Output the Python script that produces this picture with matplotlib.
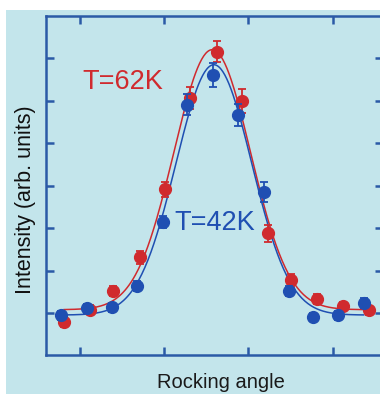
import numpy as np
import matplotlib
matplotlib.use("Agg")
import matplotlib.pyplot as plt
from matplotlib.patches import Rectangle

# rocking angle (arb.) and intensity (arb.)
x_62 = [0.81, 1.12, 1.39, 1.71, 2.01, 2.31, 2.63, 2.92, 3.23, 3.51, 3.82, 4.13, 4.43]
y_62 = [-0.21, 0.09, 0.52, 1.32, 2.92, 5.07, 6.16, 5.00, 1.89, 0.78, 0.33, 0.17, 0.07]
e_62 = [0.12, 0.10, 0.12, 0.15, 0.17, 0.25, 0.25, 0.28, 0.20, 0.15, 0.12, 0.10, 0.10]

x_42 = [0.77, 1.08, 1.38, 1.68, 1.99, 2.27, 2.58, 2.88, 3.18, 3.48, 3.77, 4.06, 4.37]
y_42 = [-0.05, 0.12, 0.14, 0.64, 2.15, 4.91, 5.61, 4.67, 2.85, 0.52, -0.09, -0.05, 0.24]
e_42 = [0.10, 0.10, 0.10, 0.12, 0.15, 0.25, 0.28, 0.26, 0.24, 0.12, 0.10, 0.10, 0.12]

red = '#d02a2e'
blue = '#1f4fb2'
axis_col = '#2b5aa6'
bg = '#c3e5eb'


def gauss_fit(x, y):
    # gaussian + constant: grid over centre/width, linear lsq for amp/offset
    x = np.asarray(x)
    y = np.asarray(y)
    best = None
    for c in np.linspace(2.3, 2.9, 61):
        for s in np.linspace(0.3, 0.7, 81):
            g = np.exp(-0.5 * ((x - c) / s) ** 2)
            A = np.column_stack([g, np.ones_like(g)])
            coef, *_ = np.linalg.lstsq(A, y, rcond=None)
            r = np.sum((A @ coef - y) ** 2)
            if best is None or r < best[0]:
                best = (r, c, s, coef)
    _, c, s, coef = best
    xs = np.linspace(x.min(), x.max(), 300)
    return xs, coef[0] * np.exp(-0.5 * ((xs - c) / s) ** 2) + coef[1]


fig = plt.figure(figsize=(3.8, 3.94), dpi=100)
fig.patch.set_facecolor('white')
fig.patches.append(Rectangle((6 / 380, 0), 1, 1 - 10 / 394, transform=fig.transFigure,
                             facecolor=bg, edgecolor='none', zorder=-5))

ax = fig.add_axes([46 / 380, 39 / 394, 337 / 380, 339 / 394])
ax.set_facecolor(bg)

for xs, ys, es, col, z in [(x_62, y_62, e_62, red, 3), (x_42, y_42, e_42, blue, 4)]:
    fx, fy = gauss_fit(xs, ys)
    ax.plot(fx, fy, color=col, lw=1.1, zorder=2)
    ax.errorbar(xs, ys, yerr=es, fmt='o', color=col, ms=8.5, capsize=3,
                elinewidth=1.3, capthick=1.3, zorder=z)

ax.set_xlim(0.595, 4.60)
ax.set_ylim(-0.98, 7.0)
ax.set_xticks([1, 2, 3, 4])
ax.set_yticks(range(7))
ax.set_xticklabels([])
ax.set_yticklabels([])
ax.tick_params(direction='in', length=6, width=1.8, color=axis_col,
               top=True, right=True, bottom=True, left=True)
for sp in ax.spines.values():
    sp.set_color(axis_col)
    sp.set_linewidth(1.8)

ax.text(82 / 380, 1 - 89 / 394, 'T=62K', transform=fig.transFigure, color=red,
        fontsize=19.5, family='Liberation Sans', ha='left', va='baseline')
ax.text(174 / 380, 1 - 230 / 394, 'T=42K', transform=fig.transFigure, color=blue,
        fontsize=19.5, family='Liberation Sans', ha='left', va='baseline')

fig.text(221 / 380, 1 - 383 / 394, 'Rocking angle', color='#1a1a1a', fontsize=14.5,
         family='Liberation Sans', ha='center', va='center')
fig.text(26 / 380, 1 - 200 / 394, 'Intensity (arb. units)', color='#111111',
         fontsize=15.5, family='Liberation Sans', rotation=90, ha='center', va='center')

fig.savefig('out.png', dpi=100, facecolor=fig.get_facecolor())
